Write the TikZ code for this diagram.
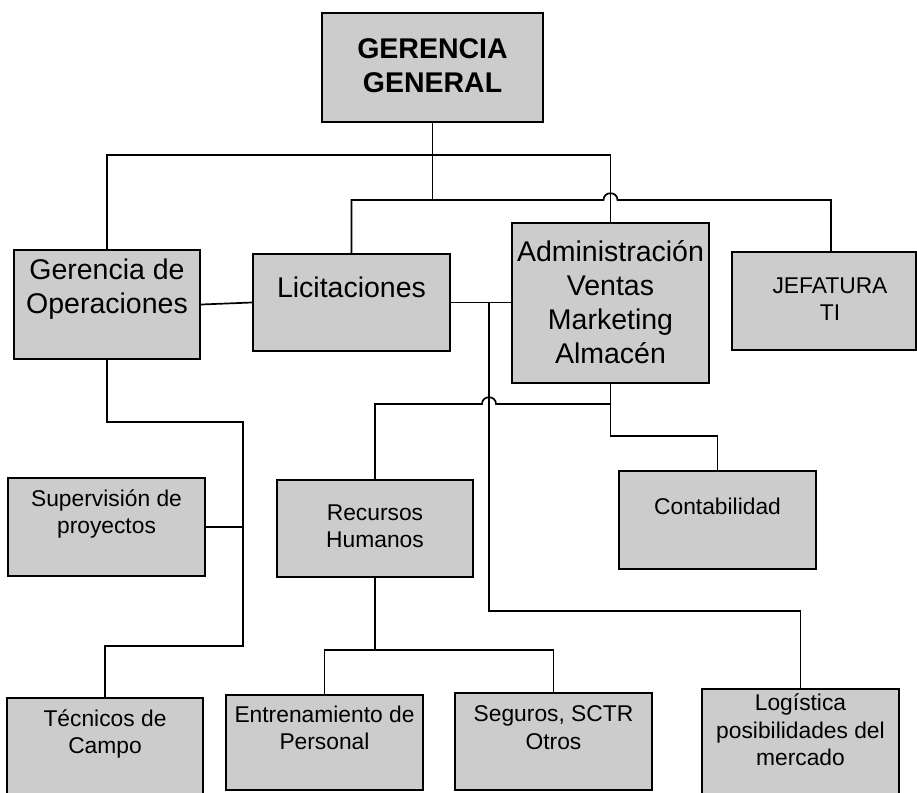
\documentclass[tikz,border=0pt]{standalone}
\usepackage{fontspec}
\setmainfont{Liberation Sans}
\usetikzlibrary{fit}
\definecolor{boxgray}{HTML}{CCCCCC}
\begin{document}
\begin{tikzpicture}[x=1pt,y=-1pt,
  orgbox/.style={draw=black, line width=2.2pt, fill=boxgray, inner sep=0pt},
  bigtext/.style={font=\fontsize{28.5}{34}\selectfont, align=center, inner sep=0pt,
    anchor=north, execute at begin node=\strut},
  smalltext/.style={font=\fontsize{22.8}{27.5}\selectfont, align=center, inner sep=0pt,
    anchor=north, execute at begin node=\strut},
  conn/.style={draw=black, line width=1.7pt}]
\useasboundingbox (0,0) rectangle (917,792);

% boxes
\node[orgbox, fit={(322,13) (543,122)}] (gg) {};
\node[orgbox, fit={(14,250) (200,359)}] (ops) {};
\node[orgbox, fit={(253,254) (450,351)}] (lic) {};
\node[orgbox, fit={(512,223) (709,383)}] (adm) {};
\node[orgbox, fit={(732,252) (916,350)}] (ti) {};
\node[orgbox, fit={(8,478) (205,576)}] (sup) {};
\node[orgbox, fit={(277,480) (473,577)}] (rh) {};
\node[orgbox, fit={(619,471) (816,569)}] (cont) {};
\node[orgbox, fit={(7,698) (203,800)}] (tec) {};
\node[orgbox, fit={(226,695) (423,790)}] (ent) {};
\node[orgbox, fit={(455,693) (652,790)}] (seg) {};
\node[orgbox, fit={(702,689) (899,800)}] (log) {};

% labels
\node[bigtext] (ggt) at ([yshift=-26.5pt]gg.north) {\textbf{GERENCIA}\\\textbf{GENERAL}};
\node[bigtext] (opst) at ([yshift=-9.5pt]ops.north) {Gerencia de\\Operaciones};
\node[bigtext] (lict) at ([yshift=-20.5pt]lic.north) {Licitaciones};
\node[bigtext] (admt) at ([yshift=-18.5pt]adm.north) {Administración\\Ventas\\Marketing\\Almacén};
\node[smalltext] (tit) at ([xshift=6pt,yshift=-26.5pt]ti.north) {JEFATURA\\TI};
\node[smalltext] (supt) at ([yshift=-12.5pt]sup.north) {Supervisión de\\proyectos};
\node[smalltext] (rht) at ([yshift=-25.5pt]rh.north) {Recursos\\Humanos};
\node[smalltext] (contt) at ([yshift=-25pt]cont.north) {Contabilidad};
\node[smalltext] (tect) at ([yshift=-12.5pt]tec.north) {Técnicos de\\Campo};
\node[smalltext] (entt) at ([yshift=-11.5pt]ent.north) {Entrenamiento de\\Personal};
\node[smalltext] (segt) at ([yshift=-13.5pt]seg.north) {Seguros, SCTR\\Otros};
\node[smalltext] (logt) at ([yshift=-6pt]log.north) {Logística\\posibilidades del\\mercado};

% bus levels and junctions
\coordinate (hiY) at (0,155);
\coordinate (loY) at (0,200);
\coordinate (lowbus) at (0,404);
\coordinate (contY) at (0,436);
\coordinate (logY) at (0,611);
\coordinate (opsY) at (0,422);
\coordinate (tecY) at (0,646);
\coordinate (rhY) at (0,650);
\coordinate (spineX) at (243,0);
\coordinate (j1) at (489,302.5);
\coordinate (tijoin) at ([xshift=7pt]ti.north);
\path (adm.north |- loY) coordinate (hopC);
\path (j1 |- lowbus) coordinate (hopD);

% top level
\draw[conn] (ops.north) |- (adm.north |- hiY) -- (adm.north);
\draw[conn] (gg.south) -- (gg.south |- loY);
\draw[conn] (lic.north) |- ([xshift=-7pt]hopC)
  .. controls +(0,-9) and +(0,-9) .. ([xshift=7pt]hopC) -| (tijoin);

% side links
\draw[conn] (ops.east) -- (lic.west);
\draw[conn] (lic.east) -- (lic.east -| adm.west);

% administration branch
\draw[conn] (adm.south) |- (cont.north |- contY) -- (cont.north);
\draw[conn] (adm.south |- lowbus) -- ([xshift=7pt]hopD)
  .. controls +(0,-9) and +(0,-9) .. ([xshift=-7pt]hopD) -| (rh.north);
\draw[conn] (j1) |- (log.north |- logY) -- (log.north);

% operations branch
\draw[conn] (ops.south) |- (spineX |- opsY) -- (spineX |- tecY) -| (tec.north);
\draw[conn] (sup.east) -- (sup.east -| spineX);

% human resources branch
\draw[conn] (rh.south) -- (rh.south |- rhY);
\draw[conn] (ent.north) |- (seg.north |- rhY) -- (seg.north);
\end{tikzpicture}
\end{document}
